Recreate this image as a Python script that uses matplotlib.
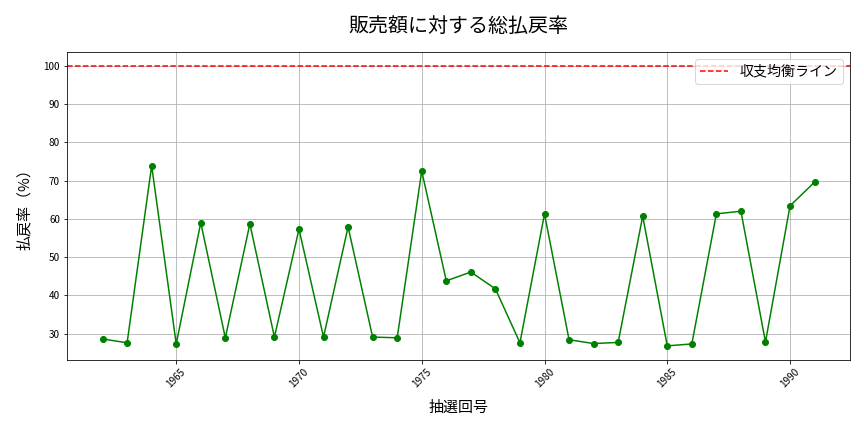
import matplotlib
matplotlib.use("Agg")
import matplotlib.pyplot as plt

plt.rcParams['font.family'] = ['Noto Sans CJK JP', 'DejaVu Sans']

# 抽選回号と総払戻率(%)
kaigo = list(range(1962, 1992))
haraimodoshi = [28.6, 27.6, 73.9, 27.3, 59.0, 28.9, 58.7, 29.1, 57.3, 29.1,
                57.9, 29.1, 28.9, 72.5, 43.8, 46.1, 41.7, 27.6, 61.3, 28.4,
                27.4, 27.7, 60.7, 26.8, 27.3, 61.3, 62.0, 27.8, 63.4, 69.6]

fig, ax = plt.subplots(figsize=(12, 6), dpi=72)
ax.plot(kaigo, haraimodoshi, marker='o', color='green', markersize=6)
ax.axhline(100, color='red', linestyle='--', label='収支均衡ライン')

ax.set_title('販売額に対する総払戻率', fontsize=20, pad=20)
ax.set_xlabel('抽選回号', fontsize=15, labelpad=11)
ax.set_ylabel('払戻率（%）', fontsize=15, labelpad=12)
ax.tick_params(axis='x', labelrotation=45, labelsize=10)
ax.tick_params(axis='y', labelsize=10)
ax.grid(True)
ax.legend(fontsize=14, loc='upper right')

fig.subplots_adjust(left=0.0775, right=0.984, top=0.88, bottom=0.167)
plt.savefig('out.png')
